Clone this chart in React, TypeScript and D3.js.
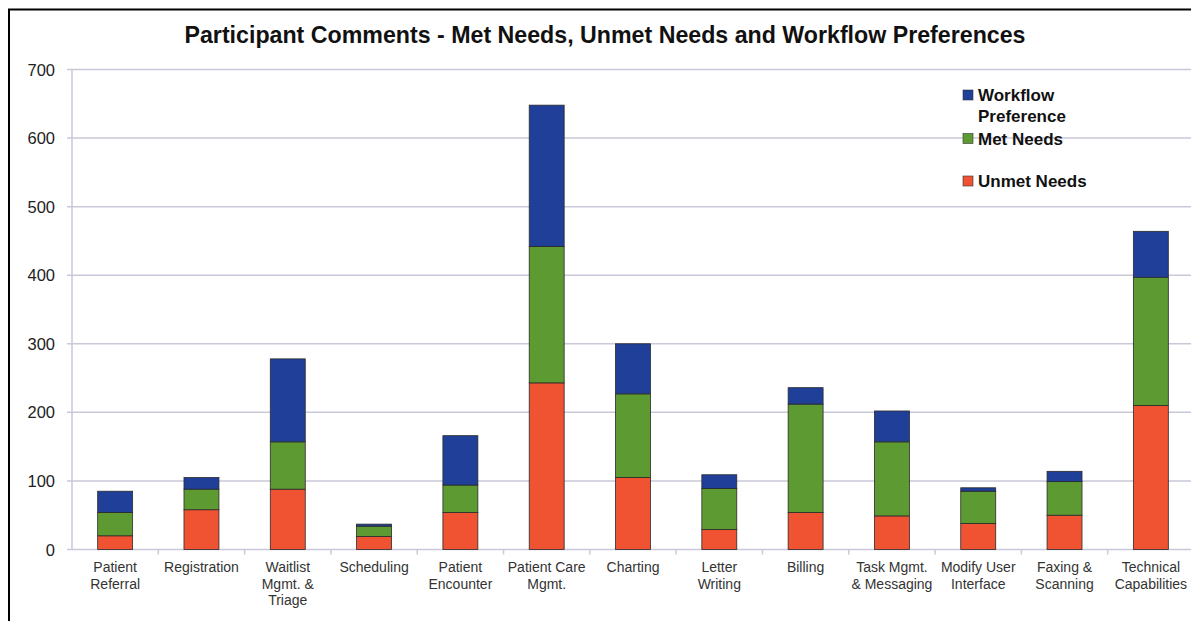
import React from "react";
import * as d3 from "d3";

const categories = [
  "Patient\nReferral",
  "Registration",
  "Waitlist\nMgmt. &\nTriage",
  "Scheduling",
  "Patient\nEncounter",
  "Patient Care\nMgmt.",
  "Charting",
  "Letter\nWriting",
  "Billing",
  "Task Mgmt.\n& Messaging",
  "Modify User\nInterface",
  "Faxing &\nScanning",
  "Technical\nCapabilities",
];
const unmetNeeds = [20, 58, 88, 19, 54, 243, 105, 29, 54, 49, 38, 50, 210];
const metNeeds = [34, 30, 69, 15, 40, 199, 122, 60, 158, 108, 47, 49, 187];
const workflowPreference = [31, 17, 121, 3, 72, 206, 73, 20, 24, 45, 5, 15, 67];
const yTicks = [0, 100, 200, 300, 400, 500, 600, 700];

const seriesNames = ["Unmet Needs", "Met Needs", "Workflow Preference"];
const seriesColors = ["#f05332", "#5e9a32", "#1f3f99"];

const W = 1191;
const H = 621;
const plot = { left: 72, right: 1194, top: 69.5, bottom: 549.5 };

export default function App() {
  const x = d3
    .scaleBand<number>()
    .domain(categories.map((_, i) => i))
    .range([plot.left, plot.right])
    .paddingInner(0.595)
    .paddingOuter(0.2975);
  const step = x.step();
  const y = d3.scaleLinear().domain([0, 700]).range([plot.bottom, plot.top]);

  const table = categories.map((c, i) => ({
    i,
    u: unmetNeeds[i],
    m: metNeeds[i],
    w: workflowPreference[i],
  }));
  const stack = d3.stack<any>().keys(["u", "m", "w"])(table);

  const font = "Arial, 'Liberation Sans', Helvetica, sans-serif";
  const gridColor = "#c9c9d9";

  const legendItems = [
    { lines: ["Workflow", "Preference"], color: seriesColors[2], y: 95 },
    { lines: ["Met Needs"], color: seriesColors[1], y: 138.5 },
    { lines: ["Unmet Needs"], color: seriesColors[0], y: 181 },
  ];

  return (
    <svg
      width={W}
      height={H}
      style={{ position: "absolute", left: 0, top: 0, background: "#fff" }}
      fontFamily={font}
    >
      <rect x={0} y={0} width={W} height={H} fill="#fff" />
      {/* border */}
      <rect x={9} y={9.5} width={W + 10} height={H + 10} fill="none" stroke="#000" strokeWidth={2} />
      <text
        x={605}
        y={43}
        textAnchor="middle"
        fontSize={23.2}
        fontWeight="bold"
        fill="#111"
      >
        Participant Comments - Met Needs, Unmet Needs and Workflow Preferences
      </text>

      {/* gridlines and y axis */}
      {yTicks.map((t) => (
        <g key={t}>
          <line
            x1={plot.left - 5}
            x2={plot.right}
            y1={y(t)}
            y2={y(t)}
            stroke={gridColor}
            strokeWidth={1.5}
          />
          <text
            x={55}
            y={y(t) + 6}
            textAnchor="end"
            fontSize={16.5}
            fill="#222"
          >
            {t}
          </text>
        </g>
      ))}
      <line x1={plot.left} x2={plot.left} y1={plot.top} y2={plot.bottom} stroke={gridColor} strokeWidth={1.5} />
      {categories.map((_, i) => (
        <line
          key={"t" + i}
          x1={plot.left + step * (i + 1)}
          x2={plot.left + step * (i + 1)}
          y1={plot.bottom}
          y2={plot.bottom + 5}
          stroke={gridColor}
          strokeWidth={1.5}
        />
      ))}

      {/* bars */}
      {stack.map((s, si) => (
        <g key={si}>
          {s.map((d: any, i: number) => (
            <rect
              key={i}
              x={x(i)}
              width={x.bandwidth()}
              y={y(d[1])}
              height={y(d[0]) - y(d[1])}
              fill={seriesColors[si]}
              stroke="#2a2a2a"
              strokeWidth={0.8}
            />
          ))}
        </g>
      ))}

      {/* category labels */}
      {categories.map((c, i) => (
        <text
          key={"c" + i}
          x={(x(i) as number) + x.bandwidth() / 2}
          y={572}
          textAnchor="middle"
          fontSize={14}
          fill="#333"
        >
          {c.split("\n").map((ln, k) => (
            <tspan key={k} x={(x(i) as number) + x.bandwidth() / 2} dy={k === 0 ? 0 : 16.5}>
              {ln}
            </tspan>
          ))}
        </text>
      ))}

      {/* legend */}
      {legendItems.map((it, k) => (
        <g key={k}>
          <rect
            x={963}
            y={it.y - 5}
            width={10}
            height={10}
            fill={it.color}
            stroke="#333"
            strokeWidth={0.6}
          />
          <text x={978} y={it.y + 6} fontSize={17} fontWeight="bold" fill="#111">
            {it.lines.map((ln, j) => (
              <tspan key={j} x={978} dy={j === 0 ? 0 : 21}>
                {ln}
              </tspan>
            ))}
          </text>
        </g>
      ))}
    </svg>
  );
}
